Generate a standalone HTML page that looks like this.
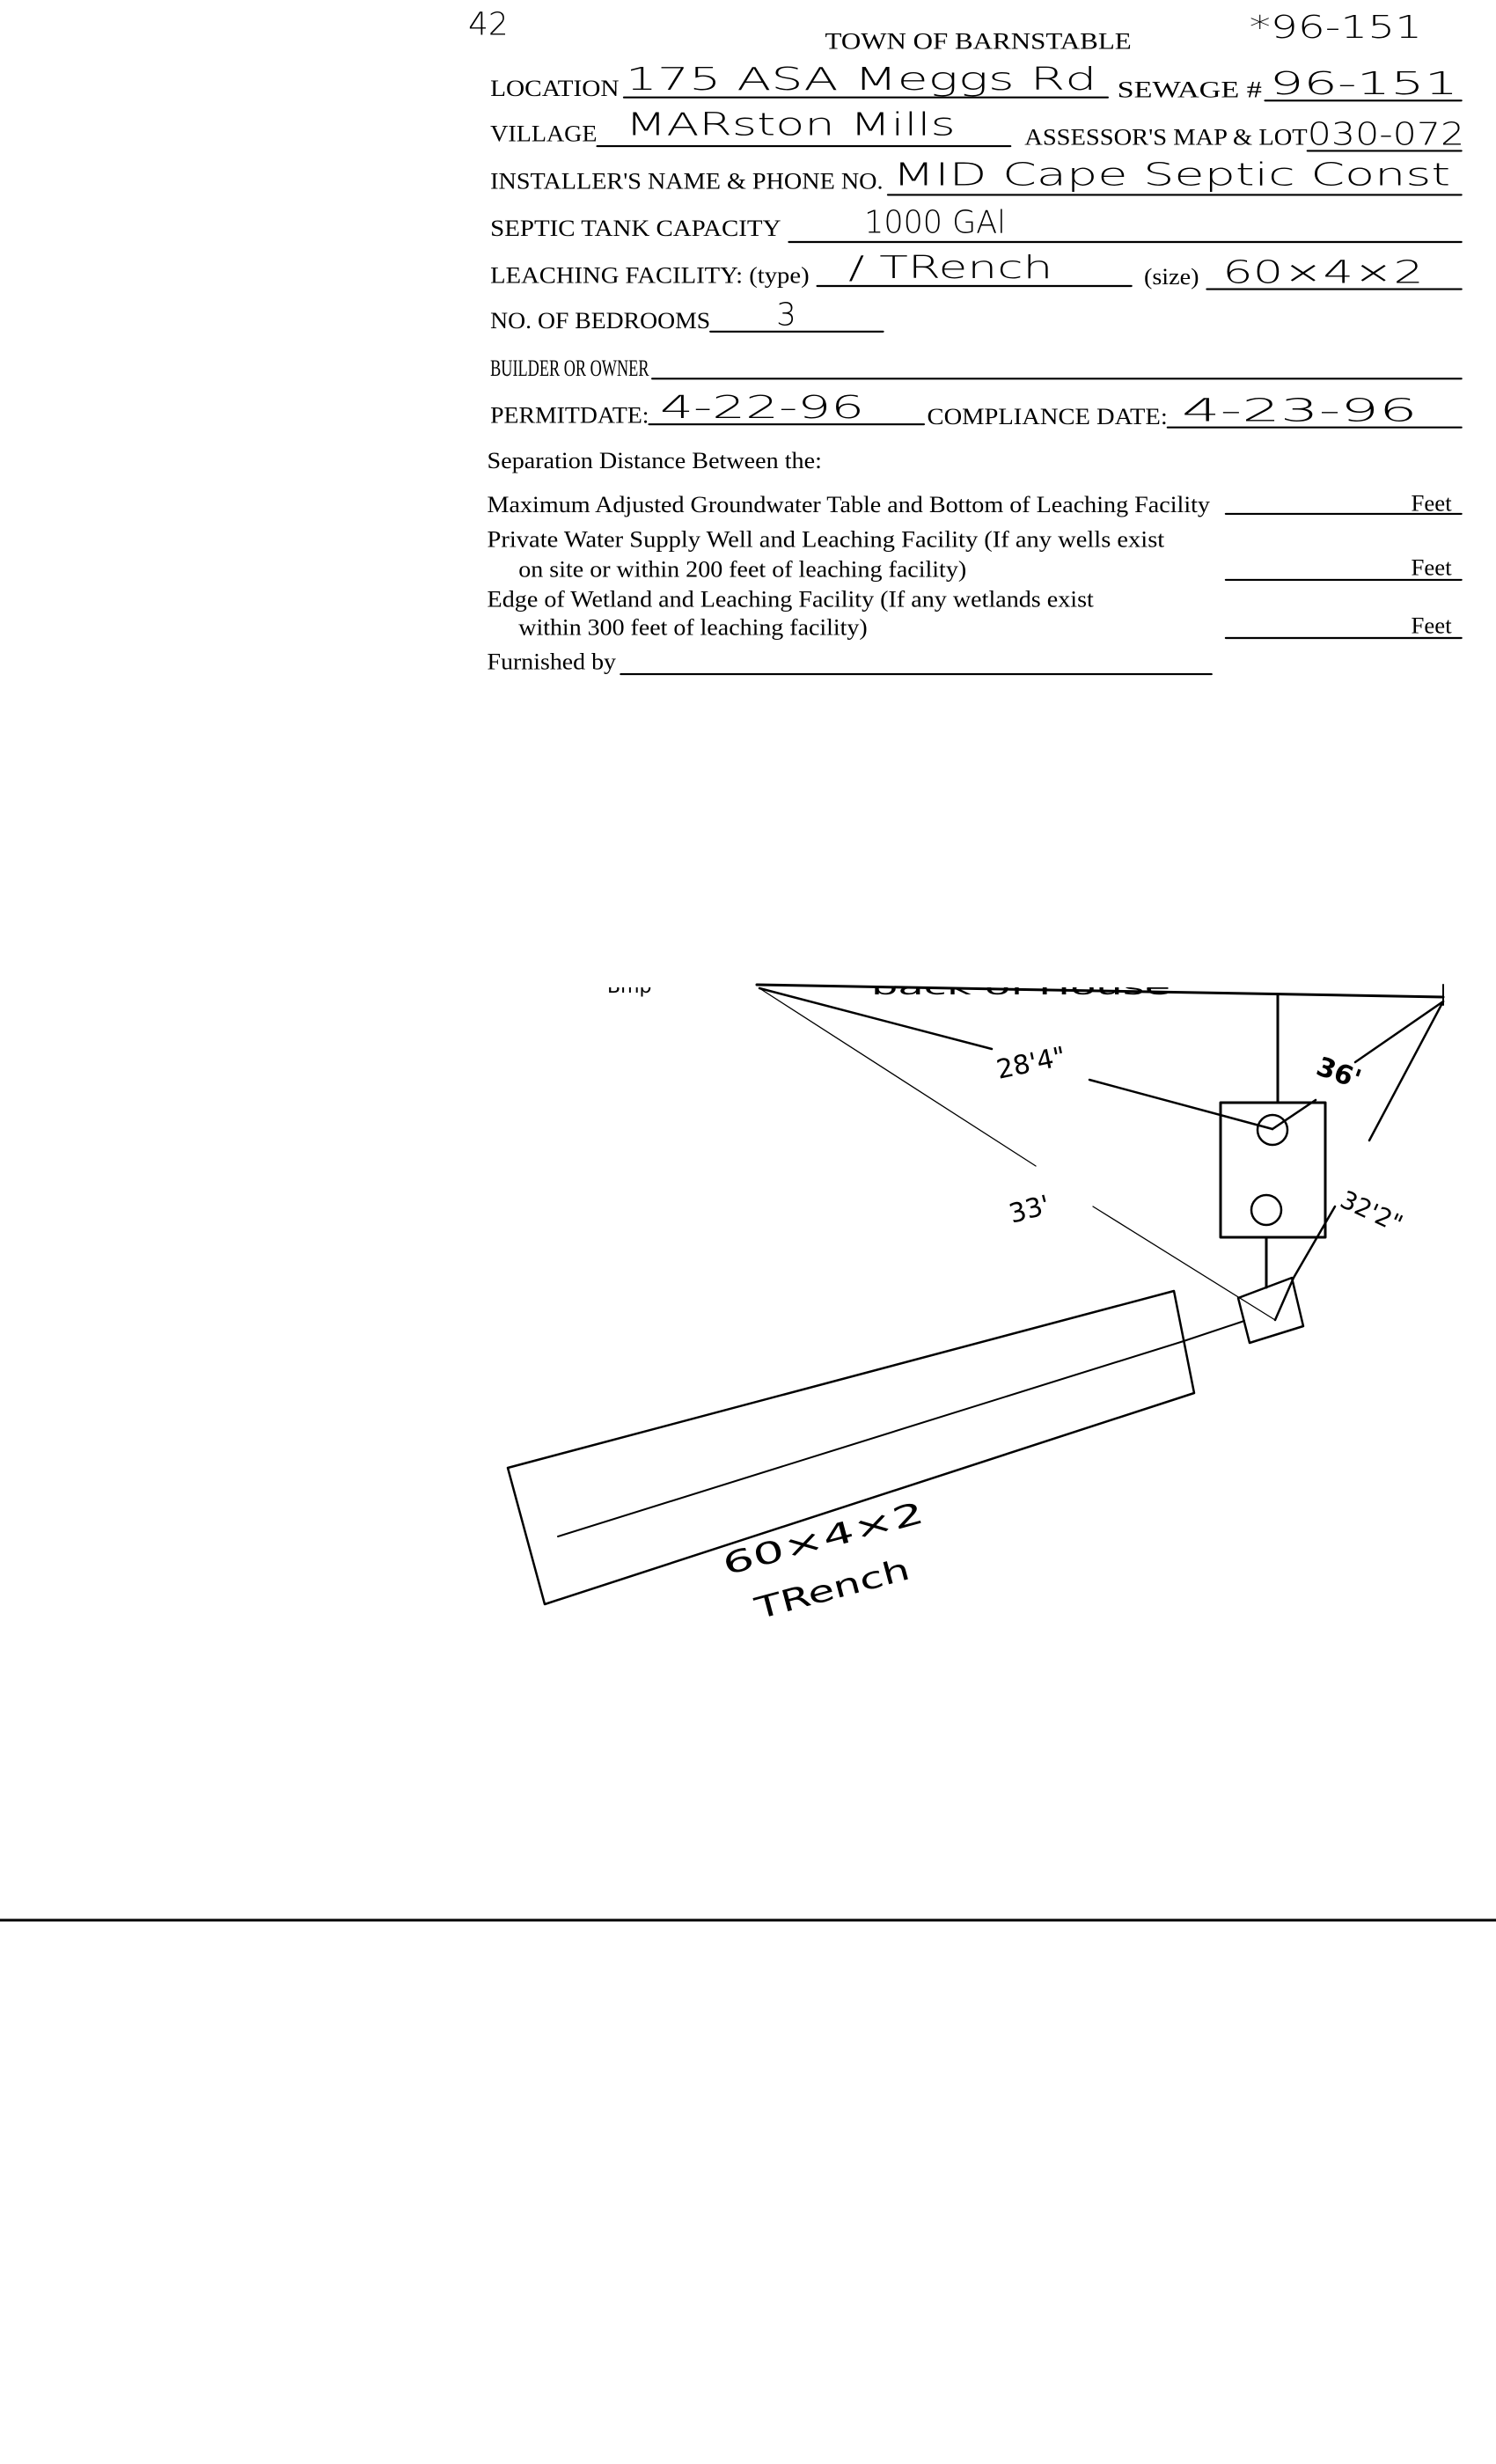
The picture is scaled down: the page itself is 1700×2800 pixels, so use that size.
<!DOCTYPE html>
<html><head><meta charset="utf-8"><style>
html,body{margin:0;padding:0;background:#fff;width:1700px;height:2800px;overflow:hidden}
svg{display:block}
.f{font-family:"Liberation Serif",serif;font-size:15px;fill:#000}
.h{font-family:"DejaVu Sans",sans-serif;font-size:20px;fill:#000;font-weight:300}
</style></head><body>
<svg width="1700" height="2800" viewBox="0 0 1700 2800" xmlns="http://www.w3.org/2000/svg">
<g transform="scale(1.7857)" stroke-linecap="round">
<text class="f" x="525" y="31" textLength="195" lengthAdjust="spacingAndGlyphs">TOWN OF BARNSTABLE</text>
<text class="h" x="795" y="24" font-size="17" textLength="110" lengthAdjust="spacingAndGlyphs">*96-151</text>
<text class="h" x="298" y="22" font-size="16">42</text>

<text class="f" x="312" y="61" textLength="82" lengthAdjust="spacingAndGlyphs">LOCATION</text>
<line x1="397" y1="62" x2="705" y2="62" stroke="#000" stroke-width="1.2"/>
<text class="h" x="398" y="57" textLength="300" lengthAdjust="spacingAndGlyphs">175 ASA Meggs Rd</text>
<text class="f" x="711" y="62" textLength="92" lengthAdjust="spacingAndGlyphs">SEWAGE #</text>
<line x1="805" y1="64" x2="930" y2="64" stroke="#000" stroke-width="1.2"/>
<text class="h" x="808" y="60" textLength="120" lengthAdjust="spacingAndGlyphs">96-151</text>

<text class="f" x="312" y="90" textLength="68" lengthAdjust="spacingAndGlyphs">VILLAGE</text>
<line x1="380" y1="93" x2="643" y2="93" stroke="#000" stroke-width="1.2"/>
<text class="h" x="398" y="86" textLength="210" lengthAdjust="spacingAndGlyphs">MARston Mills</text>
<text class="f" x="652" y="92" textLength="180" lengthAdjust="spacingAndGlyphs">ASSESSOR'S MAP &amp; LOT</text>
<text class="h" x="832" y="92" font-size="18" textLength="100" lengthAdjust="spacingAndGlyphs">030-072</text>
<line x1="832" y1="96" x2="930" y2="96" stroke="#000" stroke-width="1.2"/>

<text class="f" x="312" y="120" textLength="250" lengthAdjust="spacingAndGlyphs">INSTALLER'S NAME &amp; PHONE NO.</text>
<line x1="565" y1="124" x2="930" y2="124" stroke="#000" stroke-width="1.2"/>
<text class="h" x="568" y="118" textLength="355" lengthAdjust="spacingAndGlyphs">MID Cape Septic  Const</text>

<text class="f" x="312" y="150" textLength="185" lengthAdjust="spacingAndGlyphs">SEPTIC TANK CAPACITY</text>
<line x1="502" y1="154" x2="930" y2="154" stroke="#000" stroke-width="1.2"/>
<text class="h" x="550" y="148" textLength="90" lengthAdjust="spacingAndGlyphs">1000 GAl</text>

<text class="f" x="312" y="180" textLength="203" lengthAdjust="spacingAndGlyphs">LEACHING FACILITY: (type)</text>
<line x1="520" y1="182" x2="720" y2="182" stroke="#000" stroke-width="1.2"/>
<text class="h" x="540" y="177" textLength="130" lengthAdjust="spacingAndGlyphs">/ TRench</text>
<text class="f" x="728" y="181" textLength="35" lengthAdjust="spacingAndGlyphs">(size)</text>
<line x1="768" y1="184" x2="930" y2="184" stroke="#000" stroke-width="1.2"/>
<text class="h" x="778" y="180" textLength="128" lengthAdjust="spacingAndGlyphs">60×4×2</text>

<text class="f" x="312" y="209" textLength="140" lengthAdjust="spacingAndGlyphs">NO. OF BEDROOMS</text>
<line x1="452" y1="211" x2="562" y2="211" stroke="#000" stroke-width="1.2"/>
<text class="h" x="494" y="207">3</text>

<text class="f" x="312" y="239" textLength="101" lengthAdjust="spacingAndGlyphs">BUILDER OR OWNER</text>
<line x1="415" y1="241" x2="930" y2="241" stroke="#000" stroke-width="1.2"/>

<text class="f" x="312" y="269" textLength="101" lengthAdjust="spacingAndGlyphs">PERMITDATE:</text>
<line x1="413" y1="270" x2="588" y2="270" stroke="#000" stroke-width="1.2"/>
<text class="h" x="420" y="266" textLength="130" lengthAdjust="spacingAndGlyphs">4-22-96</text>
<text class="f" x="590" y="270" textLength="153" lengthAdjust="spacingAndGlyphs">COMPLIANCE  DATE:</text>
<line x1="743" y1="272" x2="930" y2="272" stroke="#000" stroke-width="1.2"/>
<text class="h" x="752" y="268" textLength="150" lengthAdjust="spacingAndGlyphs">4-23-96</text>

<text class="f" x="310" y="298" textLength="213" lengthAdjust="spacingAndGlyphs">Separation Distance Between the:</text>
<text class="f" x="310" y="326" textLength="460" lengthAdjust="spacingAndGlyphs">Maximum Adjusted Groundwater Table and Bottom of Leaching Facility</text>
<line x1="780" y1="327" x2="930" y2="327" stroke="#000" stroke-width="1.2"/>
<text class="f" x="898" y="325">Feet</text>
<text class="f" x="310" y="348" textLength="431" lengthAdjust="spacingAndGlyphs">Private Water Supply Well and Leaching Facility  (If any wells exist</text>
<text class="f" x="330" y="367" textLength="285" lengthAdjust="spacingAndGlyphs">on site or within 200 feet of leaching facility)</text>
<line x1="780" y1="369" x2="930" y2="369" stroke="#000" stroke-width="1.2"/>
<text class="f" x="898" y="366">Feet</text>
<text class="f" x="310" y="386" textLength="386" lengthAdjust="spacingAndGlyphs">Edge of Wetland and Leaching Facility (If any wetlands exist</text>
<text class="f" x="330" y="404" textLength="222" lengthAdjust="spacingAndGlyphs">within 300 feet of leaching facility)</text>
<line x1="780" y1="406" x2="930" y2="406" stroke="#000" stroke-width="1.2"/>
<text class="f" x="898" y="403">Feet</text>
<text class="f" x="310" y="426" textLength="82" lengthAdjust="spacingAndGlyphs">Furnished by</text>
<line x1="395" y1="429" x2="771" y2="429" stroke="#000" stroke-width="1.2"/>
</g>

<g fill="none" stroke="#000" stroke-linecap="round" stroke-linejoin="round">
<text x="690" y="1128" font-family="DejaVu Sans" font-size="22" fill="#000" stroke="none">Bmp</text>
<text x="990" y="1130" font-family="DejaVu Sans" font-size="24" fill="#000" stroke="none" textLength="340" lengthAdjust="spacingAndGlyphs">back   of   House</text>
<rect x="600" y="1080" width="1050" height="42" fill="#fff" stroke="none"/>
<line x1="860" y1="1119" x2="1640" y2="1133" stroke-width="3"/>
<line x1="1640" y1="1119" x2="1640" y2="1142" stroke-width="2"/>
<line x1="1452" y1="1130" x2="1452" y2="1253" stroke-width="3"/>
<line x1="863" y1="1123" x2="1127" y2="1192" stroke-width="2.5"/>
<line x1="863" y1="1123" x2="1177" y2="1325" stroke-width="1.3"/>
<line x1="1238" y1="1227" x2="1446" y2="1283" stroke-width="2.5"/>
<line x1="1446" y1="1283" x2="1495" y2="1250" stroke-width="2.5"/>
<line x1="1242" y1="1371" x2="1449" y2="1500" stroke-width="1.3"/>
<line x1="1640" y1="1138" x2="1540" y2="1207" stroke-width="2.5"/>
<line x1="1640" y1="1138" x2="1556" y2="1296" stroke-width="2.5"/>
<polyline points="1517,1371 1470,1452 1449,1500" stroke-width="2.5"/>
<rect x="1387" y="1253" width="119" height="153" stroke-width="3"/>
<circle cx="1446" cy="1284" r="17" stroke-width="2.5"/>
<circle cx="1439" cy="1375" r="17" stroke-width="2.5"/>
<line x1="1439" y1="1406" x2="1439" y2="1463" stroke-width="3"/>
<polygon points="1407,1475 1468,1452 1481,1507 1420,1526" stroke-width="2.5"/>
<polygon points="577,1668 1334,1467 1357,1583 619,1823" stroke-width="2.5"/>
<polyline points="634,1746 1345,1524 1414,1501" stroke-width="2"/>
<text x="1135" y="1226" font-family="DejaVu Sans" font-size="30" fill="#000" stroke="none" transform="rotate(-12 1135 1226)">28'4"</text>
<text x="1150" y="1390" font-family="DejaVu Sans" font-size="30" fill="#000" stroke="none" transform="rotate(-15 1150 1390)">33'</text>
<text x="1494" y="1220" font-family="DejaVu Sans" font-size="30" font-weight="bold" fill="#000" stroke="none" transform="rotate(20 1494 1220)">36'</text>
<text x="1521" y="1370" font-family="DejaVu Sans" font-size="28" fill="#000" stroke="none" transform="rotate(25 1521 1370)">32'2"</text>
<text x="825" y="1790" font-family="DejaVu Sans" font-size="34" fill="#000" stroke="none" transform="rotate(-15 825 1790)" textLength="235" lengthAdjust="spacingAndGlyphs">60×4×2</text>
<text x="862" y="1840" font-family="DejaVu Sans" font-size="34" fill="#000" stroke="none" transform="rotate(-15 862 1840)" textLength="180" lengthAdjust="spacingAndGlyphs">TRench</text>
</g>
<line x1="0" y1="2182" x2="1700" y2="2182" stroke="#000" stroke-width="3"/>
</svg>
</body></html>
